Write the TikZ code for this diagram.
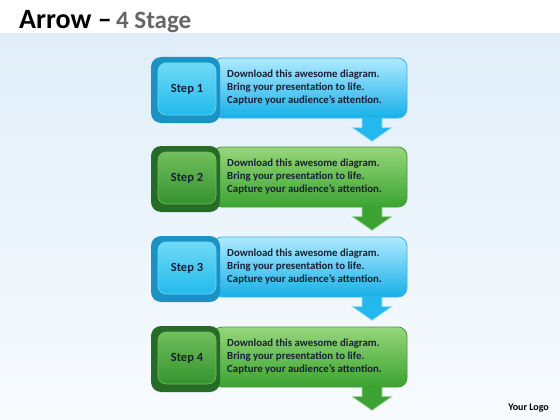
\documentclass[tikz,border=0pt]{standalone}
\usepackage{fontspec}
\setmainfont{Carlito}
\usetikzlibrary{calc}

\begin{document}
\begin{tikzpicture}[x=1pt,y=-1pt,
  stepbox/.style={rounded corners=9pt,minimum width=194pt,minimum height=60pt,inner sep=0pt,line width=0.8pt},
  ring/.style={rounded corners=10pt,minimum width=69pt,minimum height=66pt,inner sep=0pt},
  face/.style={rounded corners=8pt,minimum width=58pt,minimum height=52pt,inner sep=0pt,line width=0.6pt,
    text=navytext,font=\fontsize{12.5}{14}\selectfont\bfseries},
  desc/.style={anchor=west,align=left,inner sep=0pt,text=navytext,font=\fontsize{10.8}{13}\selectfont\bfseries},
  headedge/.style={line width=0.7pt,line join=round}]
% Define stage colours
\definecolor{bgtop}{RGB}{224,238,249}
\definecolor{bgbot}{RGB}{248,251,254}
\definecolor{navytext}{RGB}{24,32,52}
\definecolor{bluetop}{RGB}{175,234,255}
\definecolor{bluebot}{RGB}{22,176,232}
\definecolor{blueedge}{RGB}{70,175,225}
\definecolor{bluering}{RGB}{26,146,196}
\definecolor{bluefacetop}{RGB}{110,218,246}
\definecolor{bluefacebot}{RGB}{34,186,236}
\definecolor{bluearrow}{RGB}{36,184,236}
\definecolor{greentop}{RGB}{150,214,122}
\definecolor{greenbot}{RGB}{58,164,48}
\definecolor{greenedge}{RGB}{72,150,60}
\definecolor{greenring}{RGB}{38,108,38}
\definecolor{greenfacetop}{RGB}{112,190,92}
\definecolor{greenfacebot}{RGB}{52,148,46}
\definecolor{greenarrow}{RGB}{60,162,50}

% Background and title
\useasboundingbox (0,0) rectangle (560,420);
\fill[white] (0,0) rectangle (560,420);
\shade[top color=bgtop,bottom color=bgbot] (0,34) rectangle (560,420);
\node[anchor=base west,inner sep=0pt] (title) at (19,29)
  {{\fontsize{28}{32}\selectfont\bfseries Arrow –}\hspace{2pt} {\color{black!60}\fontsize{25}{30}\selectfont\bfseries 4 Stage}};

% Stage 1
\node[stepbox,draw=blueedge,top color=bluetop,bottom color=bluebot] (box1) at (310,88) {};
\coordinate (a1) at ($(box1.south)+(62,0)$);
\fill[bluearrow] (a1) ++(-10,-1) -- ++(20,0) -- ++(0,10) -- ++(10,0) -- ++(-20,14) -- ++(-20,-14) -- ++(10,0) -- cycle;
\draw[headedge,white!55!bluearrow] (a1) ++(-10,0) -- ++(0,9) -- ++(-10,0) -- ++(20,14) -- ++(20,-14) -- ++(-10,0) -- ++(0,-9);
\node[ring,fill=bluering] (ring1) at (185.5,90) {};
\node[face,draw=bluefacetop,top color=bluefacetop,bottom color=bluefacebot] (step1) at (187,89) {Step 1};
\node[desc] (txt1) at (227,88) {Download this awesome diagram.\\Bring your presentation to life.\\Capture your audience’s attention.};

% Stage 2
\node[stepbox,draw=greenedge,top color=greentop,bottom color=greenbot] (box2) at (310,177) {};
\coordinate (a2) at ($(box2.south)+(62,0)$);
\fill[greenarrow] (a2) ++(-10,-1) -- ++(20,0) -- ++(0,10) -- ++(10,0) -- ++(-20,14) -- ++(-20,-14) -- ++(10,0) -- cycle;
\draw[headedge,white!55!greenarrow] (a2) ++(-10,0) -- ++(0,9) -- ++(-10,0) -- ++(20,14) -- ++(20,-14) -- ++(-10,0) -- ++(0,-9);
\node[ring,fill=greenring] (ring2) at (185.5,179) {};
\node[face,draw=greenfacetop,top color=greenfacetop,bottom color=greenfacebot] (step2) at (187,178) {Step 2};
\node[desc] (txt2) at (227,177) {Download this awesome diagram.\\Bring your presentation to life.\\Capture your audience’s attention.};

% Stage 3
\node[stepbox,draw=blueedge,top color=bluetop,bottom color=bluebot] (box3) at (310,267) {};
\coordinate (a3) at ($(box3.south)+(62,0)$);
\fill[bluearrow] (a3) ++(-10,-1) -- ++(20,0) -- ++(0,10) -- ++(10,0) -- ++(-20,14) -- ++(-20,-14) -- ++(10,0) -- cycle;
\draw[headedge,white!55!bluearrow] (a3) ++(-10,0) -- ++(0,9) -- ++(-10,0) -- ++(20,14) -- ++(20,-14) -- ++(-10,0) -- ++(0,-9);
\node[ring,fill=bluering] (ring3) at (185.5,269) {};
\node[face,draw=bluefacetop,top color=bluefacetop,bottom color=bluefacebot] (step3) at (187,268) {Step 3};
\node[desc] (txt3) at (227,267) {Download this awesome diagram.\\Bring your presentation to life.\\Capture your audience’s attention.};

% Stage 4
\node[stepbox,draw=greenedge,top color=greentop,bottom color=greenbot] (box4) at (310,357) {};
\coordinate (a4) at ($(box4.south)+(62,0)$);
\fill[greenarrow] (a4) ++(-10,-1) -- ++(20,0) -- ++(0,10) -- ++(10,0) -- ++(-20,14) -- ++(-20,-14) -- ++(10,0) -- cycle;
\draw[headedge,white!55!greenarrow] (a4) ++(-10,0) -- ++(0,9) -- ++(-10,0) -- ++(20,14) -- ++(20,-14) -- ++(-10,0) -- ++(0,-9);
\node[ring,fill=greenring] (ring4) at (185.5,359) {};
\node[face,draw=greenfacetop,top color=greenfacetop,bottom color=greenfacebot] (step4) at (187,358) {Step 4};
\node[desc] (txt4) at (227,357) {Download this awesome diagram.\\Bring your presentation to life.\\Capture your audience’s attention.};

% Logo
\node[anchor=base east,inner sep=0pt,font=\fontsize{10}{12}\selectfont\bfseries] (logo) at (549,410) {Your Logo};
\end{tikzpicture}
\end{document}
